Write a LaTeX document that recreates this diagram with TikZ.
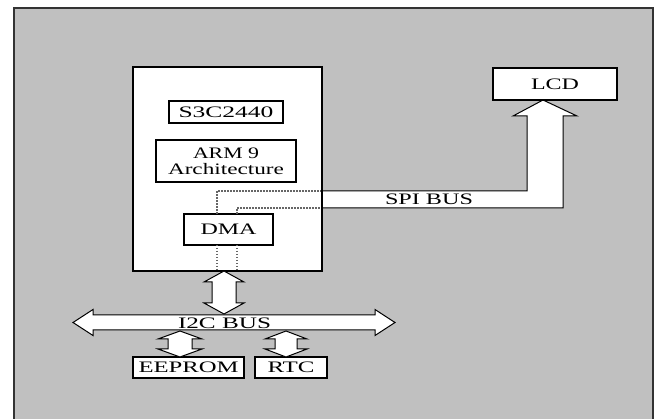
\documentclass[tikz,border=0pt]{standalone}
\usepackage{fontspec}
\setmainfont{Liberation Serif}
\definecolor{bggray}{RGB}{192,192,192}
\newcommand\tw[2]{\resizebox{#1pt}{\height}{#2}}
% vertical double block arrow: cx, ytop, ybot, shaft half, head half, head length
\newcommand\varrowblk[6]{%
  \draw[barrow] (#1,#2) -- ({#1+#5},{#2+#6}) -- ({#1+#4},{#2+#6}) -- ({#1+#4},{#3-#6}) -- ({#1+#5},{#3-#6}) -- (#1,#3)
    -- ({#1-#5},{#3-#6}) -- ({#1-#4},{#3-#6}) -- ({#1-#4},{#2+#6}) -- ({#1-#5},{#2+#6}) -- cycle;}
% horizontal double block arrow: cy, xleft, xright, shaft half, head half, head length
\newcommand\harrowblk[6]{%
  \draw[barrow] (#2,#1) -- ({#2+#6},{#1-#5}) -- ({#2+#6},{#1-#4}) -- ({#3-#6},{#1-#4}) -- ({#3-#6},{#1-#5}) -- (#3,#1)
    -- ({#3-#6},{#1+#5}) -- ({#3-#6},{#1+#4}) -- ({#2+#6},{#1+#4}) -- ({#2+#6},{#1+#5}) -- cycle;}
\begin{document}
\begin{tikzpicture}[x=1pt,y=-1pt]
\tikzset{
  blk/.style={draw=black, line width=1.2pt, fill=white, rectangle, inner sep=0pt,
    font=\fontsize{16}{16}\selectfont, align=center},
  lbl/.style={inner sep=0pt, font=\fontsize{16}{16}\selectfont},
  barrow/.style={draw=black, line width=1pt, fill=white, line join=miter},
  dots/.style={draw=black!60, line width=1.3pt, dash pattern=on 1.5pt off 1.5pt}
}
\useasboundingbox (0,0) rectangle (661,419);
\clip (0,0) rectangle (661,419);
\fill[white] (0,0) rectangle (661,419);
\draw[line width=2.5pt, draw=black!80, fill=bggray] (14,8) rectangle (653,440);

% SPI bus arrow
\fill[white] (322,191) -- (527,191) -- (527,116) -- (513,116) -- (543,100) -- (577,116) -- (563,116) -- (563,208) -- (322,208) -- cycle;
\draw[line width=1pt, line join=miter] (322,191) -- (527,191) -- (527,116) -- (513,116) -- (543,100) -- (577,116) -- (563,116) -- (563,208) -- (322,208);

% main chip box
\node[blk, line width=1.5pt, minimum width=189pt, minimum height=204pt] (cpu) at (227.5,169) {};
\node[blk, line width=1.6pt, minimum width=114pt, minimum height=22pt] (soc) at (226,112) {\tw{95}{S3C2440}};
\node[blk, minimum width=140pt, minimum height=42pt] (arm) at (226,161) {\tw{66}{ARM 9}\\[0pt]\tw{116}{Architecture}};
\node[blk, minimum width=89pt, minimum height=31pt] (dma) at (228.5,229.5) {\tw{56}{DMA}};
\node[blk, minimum width=124pt, minimum height=32pt] (lcd) at (555,84) {\tw{48}{LCD}};
\node[blk, minimum width=111pt, minimum height=21pt] (eeprom) at (188.5,367.5) {\tw{100}{EEPROM}};
\node[blk, minimum width=72pt, minimum height=21pt] (rtc) at (291,367.5) {\tw{47}{RTC}};

% dotted lines from DMA
\draw[dots] (217,214) -- (217,191) -- (321,191);
\draw[dots] (237,214) -- (237,208) -- (321,208);
\draw[dots] (217,245) -- (217,270);
\draw[dots] (237,245) -- (237,270);

\node[lbl] (spi) at (429,199) {\tw{88}{SPI BUS}};

% I2C bus and block arrows
\varrowblk{224}{271}{314}{12}{20}{11}
\harrowblk{322.5}{73}{395}{7.5}{13}{20}
\varrowblk{180}{331}{357}{12}{22}{8}
\varrowblk{286}{331}{357}{11}{21}{8}
\node[lbl] (i2c) at (224.5,323) {\tw{93}{I2C BUS}};
\end{tikzpicture}
\end{document}
